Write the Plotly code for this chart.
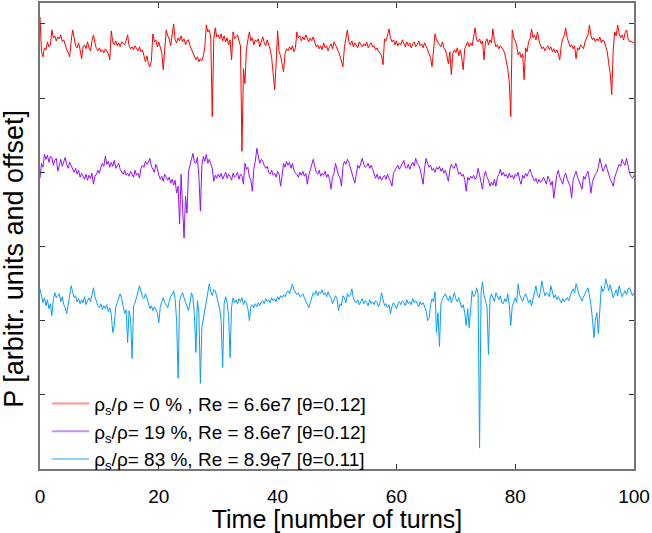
import numpy as np
import plotly.graph_objects as go

# time axis: 0..100 turns, sampled every 0.25 turn
time = np.linspace(0, 100, 401)

# fluctuations (arbitrary units, positive = up)
red_fluct = [
27,-8,-13,-4,-6,2,-3,-1,14,6,8,3,7,5,9,2,4,-2,-6,-9,
-13,3,14,6,-2,-4,1,-6,-15,-3,-1,-5,2,-4,-7,3,9,1,-5,-7,
-4,-8,-6,-9,-5,-7,-10,-16,13,2,-1,3,-2,1,-3,2,0,-1,3,9,
-2,-5,-3,-6,-2,-4,-7,-3,-8,-6,-14,-18,-12,-20,-23,-17,10,2,4,-3,
2,-5,-9,-26,-3,14,8,5,-2,7,20,4,1,6,3,8,2,5,-1,3,
4,-2,-6,-9,-12,-16,-13,-18,-15,-17,-12,-3,19,12,14,6,-73,4,16,7,
9,5,10,3,8,2,6,-1,4,-16,12,5,7,9,3,-2,-108,-25,-40,-6,
4,12,3,6,-1,4,2,5,-3,3,7,1,-2,4,0,-6,-14,-30,-46,-20,
13,-8,-12,-20,-28,-10,-5,-7,-3,-6,-2,-8,-4,12,6,8,3,7,4,9,
5,2,6,3,7,1,-3,-1,-5,-2,-6,1,-4,-2,-7,-3,0,-5,2,-1,
-4,-8,-12,-17,-23,-3,6,14,2,-1,3,-3,1,-2,-4,2,-1,-3,0,-2,
2,-4,-1,1,-3,-2,-6,-4,-8,-9,-12,-21,5,3,8,15,6,2,4,-1,
3,-2,1,-1,4,0,-3,2,-2,1,-4,0,2,-3,-1,3,-2,0,-4,1,
-2,-6,-10,-14,-23,-3,10,4,1,-1,-3,2,-4,-6,-12,-20,-8,-31,-10,-6,
-9,-4,-12,-6,-14,-26,-5,-1,2,-3,1,-2,6,16,4,2,5,0,3,-16,
2,5,-1,4,1,15,3,-3,-1,-5,-2,-4,-6,-10,-18,-25,-38,-73,14,6,
3,-2,-11,-8,-14,-10,-36,-4,-8,2,5,15,6,9,4,12,3,-2,-5,-3,
-7,-4,-2,-6,-3,-8,-5,-9,-6,-10,-16,-2,5,8,16,6,2,-3,-1,-5,
-2,-15,-4,-6,-1,-3,-5,2,6,9,19,8,4,6,2,5,3,7,1,4,
2,-3,-8,-20,-30,-51,-6,12,8,19,10,6,9,4,11,14,5,2,3,1,
2]

purple_fluct = [
-7,8,4,17,12,16,9,15,14,6,11,13,0,8,12,5,10,14,7,3,
9,5,2,-1,3,-3,1,-6,-2,-5,-8,-3,-9,-4,-7,-2,-13,-5,-3,1,
-2,4,8,5,15,7,10,4,9,5,11,3,6,8,2,-1,-3,1,-4,-2,
-5,0,-3,-6,1,-4,-2,-7,3,6,4,10,7,9,13,5,2,-1,7,3,
-4,-8,-5,-10,-3,-7,-9,-6,-12,-8,-14,-9,-22,-15,-53,-3,-38,-67,-25,-42,
0,6,12,18,9,8,14,-5,-40,6,15,10,17,8,12,7,3,-10,-4,-7,
-3,-6,-2,-8,-4,-1,-7,-3,-5,-9,-2,-6,-4,-1,-8,-3,-5,-13,8,2,
4,-6,-9,-20,3,10,23,14,8,12,10,6,3,5,-1,-3,1,-4,-2,-6,
0,-3,-15,-5,8,4,10,6,9,3,8,1,-2,-3,-6,-1,-4,0,-5,-2,
-13,-4,2,6,12,5,-1,-3,1,-5,-2,-4,0,-6,-3,-8,-18,-6,-2,8,
2,-4,-6,-15,5,10,7,12,9,4,-2,-5,-12,-3,6,3,9,13,7,4,
5,8,3,6,2,-4,-7,-3,-8,-5,-9,-6,-4,-8,-3,-7,-10,-15,-2,1,
3,6,2,5,8,11,4,3,7,2,6,9,5,13,8,6,2,-4,-13,3,
13,8,4,6,1,3,-1,4,2,5,0,3,-2,1,-4,-10,2,7,4,3,
8,2,-3,-1,-5,-3,-8,-20,-6,-9,-5,-7,-4,-8,-6,3,-4,-9,-18,-5,
0,-6,-9,-15,-11,-14,-8,-15,-6,-3,2,-4,-1,-5,-3,-7,-2,-6,-4,-8,
-3,-5,-1,-9,-13,-4,-7,-2,-5,-1,2,-3,-6,-10,-7,-12,-8,-11,-10,-6,
-9,-13,-5,-8,-14,-10,-27,-12,-4,1,-6,-9,-13,-5,-2,-8,-11,-15,-27,-9,
-4,0,-6,-10,-13,-18,-5,-8,-3,0,-9,-22,-11,-6,-3,-1,4,13,5,0,
3,7,2,-4,-8,-11,-15,-6,-2,3,7,5,12,8,6,13,4,-2,-5,-7,
-4]

blue_fluct = [
12,4,-2,3,-5,1,-8,-3,-15,2,8,3,5,7,-1,4,-4,-7,-13,-2,
6,15,9,3,5,-1,2,-3,1,-2,4,-4,0,3,-1,6,13,4,-2,-5,
-7,-3,-9,-5,-8,-4,-11,-7,-14,-32,-25,-6,-2,3,7,2,-4,-13,-9,-42,
-10,-18,-58,-6,-2,5,9,15,10,4,2,7,3,-4,-8,-5,-10,-6,-9,-12,
-22,-6,-1,3,-2,-4,-7,-1,4,6,10,2,-20,-78,0,5,8,3,-2,-6,
-10,-2,8,3,-15,-52,0,-12,-83,-27,-18,-10,-2,8,17,9,5,11,10,4,
-3,-8,-20,-67,-3,4,-2,-15,-57,-6,3,-2,1,-3,2,-1,3,-4,0,-2,
-8,-20,-6,-4,-7,-3,-6,-2,-5,-1,0,-3,2,-1,1,-2,3,0,2,-1,
4,1,5,3,6,4,8,10,7,12,17,11,9,6,8,4,5,7,3,-1,
-4,-7,-2,3,8,6,10,5,9,7,11,6,8,4,9,5,3,-3,1,5,
2,-10,-3,-5,5,3,-2,7,4,6,12,3,-1,-2,1,-4,-1,2,-3,0,
-2,-5,1,-3,-1,-4,0,-2,-6,-1,8,2,-5,-3,-7,-4,-13,-6,-2,-5,
-8,-3,-1,-4,0,-2,-5,1,-3,-1,-4,2,-2,0,-3,-6,-1,-4,-2,-7,
-10,-20,-18,-4,2,-1,9,-32,-12,-46,-3,2,4,7,3,0,5,-2,3,8,
2,-1,3,-2,-7,-4,-12,-25,-8,-27,-5,10,4,6,13,7,-148,8,19,5,
0,-6,-54,2,7,3,-1,8,4,1,5,-2,-3,2,-1,7,-4,-25,-6,0,
3,-2,17,6,2,-1,4,7,3,-2,1,-5,2,8,15,6,3,9,20,11,
5,8,7,4,15,9,3,6,1,4,0,-2,2,-1,1,3,0,6,9,12,
8,17,10,6,3,0,4,7,10,13,5,-4,-18,-37,-20,-12,-33,-8,15,9,
12,22,14,10,16,8,3,7,11,5,15,9,4,7,10,6,12,13,8,5,
8]

offsets = [427, 299, 169]
names = [
    "ρ<sub>s</sub>/ρ = 0 % , Re = 6.6e7 [θ=0.12]",
    "ρ<sub>s</sub>/ρ= 19 %, Re = 8.6e7 [θ=0.12]",
    "ρ<sub>s</sub>/ρ= 83 %, Re = 8.9e7 [θ=0.11]",
]
colors = ["#ff0000", "#9410ff", "#0a9cff"]
legend_colors = ["#ff9090", "#c890ff", "#90d0ff"]
series = [red_fluct, purple_fluct, blue_fluct]

fig = go.Figure()
for s, off, name, col in zip(series, offsets, names, colors):
    fig.add_trace(go.Scatter(
        x=time, y=np.array(s) + off, mode="lines", name=name,
        line=dict(color=col, width=1), showlegend=False,
    ))
# legend entries (pale sample lines as in the reference)
for name, lc in zip(names, legend_colors):
    fig.add_trace(go.Scatter(
        x=[None], y=[None], mode="lines", name=name,
        line=dict(color=lc, width=2), showlegend=True,
    ))

font = "Liberation Sans, Arial, sans-serif"
fig.update_layout(
    width=652, height=533,
    margin=dict(l=40, r=18, t=1, b=64),
    plot_bgcolor="white", paper_bgcolor="white",
    font=dict(family=font, color="black", size=19),
    showlegend=True,
    legend=dict(x=0.012, y=0.181, xanchor="left", yanchor="top",
                bgcolor="rgba(0,0,0,0)", font=dict(size=19, family=font),
                tracegroupgap=0, itemwidth=37),
    xaxis=dict(range=[0, 100], tickmode="linear", tick0=0, dtick=20,
               ticks="inside", ticklen=5, tickcolor="#333",
               showline=True, linecolor="#777", linewidth=1.5, mirror="ticks",
               showgrid=False, zeroline=False,
               tickfont=dict(size=19), ticklabelstandoff=9,
               title=dict(text="Time [number of turns]", font=dict(size=25), standoff=1)),
    yaxis=dict(range=[0, 468], tickmode="linear", tick0=0, dtick=74.5,
               ticks="inside", ticklen=5, tickcolor="#333",
               showline=True, linecolor="#777", linewidth=1.5, mirror="ticks",
               showgrid=False, zeroline=False, showticklabels=False),
    annotations=[dict(text="P [arbitr. units and offset]", textangle=-90,
                      xref="paper", yref="paper", x=-0.044, y=0.451,
                      xanchor="center", yanchor="middle", showarrow=False,
                      font=dict(size=27, family=font))],
)
fig.write_html("out.html")
